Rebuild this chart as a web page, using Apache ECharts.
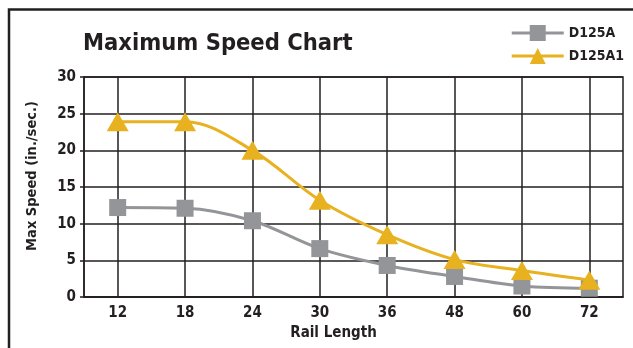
<!DOCTYPE html>
<html>
<head>
<meta charset="utf-8">
<script src="https://cdn.jsdelivr.net/npm/echarts@6/dist/echarts.min.js"></script>
<style>
html,body{margin:0;padding:0;background:#fff;}
#c{width:633px;height:348px;}
</style>
</head>
<body>
<div id="c"></div>
<script>
const categories = ['12','18','24','30','36','48','60','72'];
const d125a = [12.2, 12.1, 10.4, 6.6, 4.3, 2.8, 1.5, 1.2];
const d125a1 = [23.9, 23.9, 20.0, 13.2, 8.5, 5.1, 3.6, 2.3];
const yTicks = [0, 5, 10, 15, 20, 25, 30];

const FONT = '"DejaVu Sans Condensed", "Liberation Sans Narrow", sans-serif';
const DARK = '#231f20';
const GRAY = '#939598';
const GOLD = '#e8b120';

const chart = echarts.init(document.getElementById('c'), null, {renderer: 'canvas'});
chart.setOption({
  animation: false,
  backgroundColor: '#fff',
  title: {
    text: 'Maximum Speed Chart',
    left: 78, top: 27,
    textStyle: {fontFamily: FONT, fontWeight: 'bold', fontSize: 23.5, color: DARK}
  },
  legend: {
    orient: 'vertical',
    right: 4, top: 20,
    itemWidth: 52, itemHeight: 20, itemGap: 7,
    lineStyle: {width: 3},
    textStyle: {fontFamily: FONT, fontWeight: 'bold', fontSize: 14, color: DARK},
    data: ['D125A', 'D125A1']
  },
  grid: {
    left: 84, right: 10, top: 77, bottom: 51,
    show: true, borderColor: DARK, borderWidth: 1.5
  },
  xAxis: {
    type: 'category',
    data: categories,
    boundaryGap: true,
    name: 'Rail Length',
    nameLocation: 'middle',
    nameGap: 24,
    nameTextStyle: {fontFamily: FONT, fontWeight: 'bold', fontSize: 15, color: DARK, padding: [0, 40, 0, 0]},
    axisLine: {lineStyle: {color: DARK, width: 1.5}},
    axisTick: {show: false},
    axisLabel: {fontFamily: FONT, fontWeight: 'bold', fontSize: 15, color: DARK, margin: 9},
    splitLine: {show: true, alignWithLabel: true, lineStyle: {color: DARK, width: 1.5}}
  },
  yAxis: {
    type: 'value',
    min: 0, max: 30, interval: 5,
    name: 'Max Speed (in./sec.)',
    nameLocation: 'middle',
    nameGap: 44,
    nameTextStyle: {fontFamily: FONT, fontWeight: 'bold', fontSize: 14.5, color: DARK, padding: [0, 0, 0, 22]},
    axisLine: {show: true, lineStyle: {color: DARK, width: 1.5}},
    axisTick: {show: true, length: 4, lineStyle: {color: DARK, width: 1.5}},
    axisLabel: {fontFamily: FONT, fontWeight: 'bold', fontSize: 15, color: DARK, margin: 8,
      formatter: v => yTicks.includes(v) ? String(v) : ''},
    splitLine: {show: true, lineStyle: {color: DARK, width: 1.5}}
  },
  series: [
    {
      name: 'D125A', type: 'line', data: d125a, smooth: 0.35,
      symbol: 'rect', symbolSize: 17,
      itemStyle: {color: GRAY},
      lineStyle: {color: GRAY, width: 3}, z: 3
    },
    {
      name: 'D125A1', type: 'line', data: d125a1, smooth: 0.35,
      symbol: 'triangle', symbolSize: [22, 19],
      itemStyle: {color: GOLD},
      lineStyle: {color: GOLD, width: 3}, z: 4
    }
  ],
  graphic: [
    {type: 'polyline', silent: true,
     shape: {points: [[9, 348], [9, 9.5], [633, 9.5]]},
     style: {stroke: DARK, lineWidth: 2.5, fill: null}}
  ]
});
</script>
</body>
</html>
